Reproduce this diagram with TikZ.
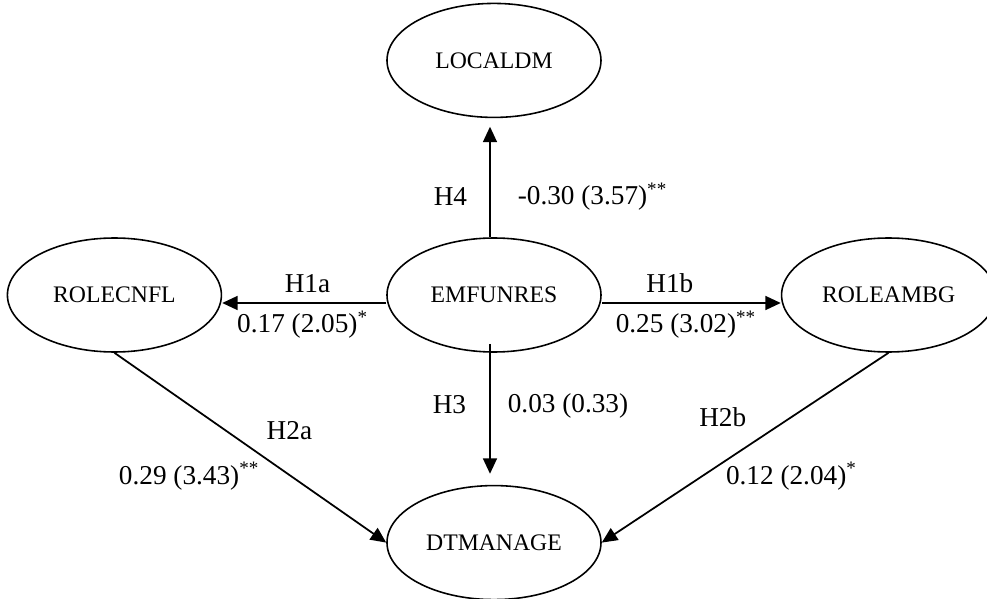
\documentclass[tikz,border=0pt]{standalone}
\usepackage{fontspec}
\setmainfont{Liberation Serif}
\usetikzlibrary{positioning,arrows.meta,shapes}
\tikzset{>={Triangle[length=0.31cm,width=0.28cm]}}

\begin{document}
\begin{tikzpicture}[
construct/.style={ellipse, draw, line width=0.9pt, minimum width=4.28cm, minimum height=2.28cm, inner sep=0pt, font=\fontsize{13.5}{16}\selectfont},
link/.style={->, line width=1pt},
pathlbl/.style={inner sep=0pt, font=\fontsize{15.5}{18}\selectfont}
]
\useasboundingbox (-9.88,-6.08) rectangle (9.86,5.9);
\node (emfunres) [construct] {EMFUNRES};
\node (localdm) [construct, above=2.38cm of emfunres] {LOCALDM};
\node (rolecnfl) [construct, left=3.28cm of emfunres] {ROLECNFL};
\node (roleambg) [construct, right=3.58cm of emfunres] {ROLEAMBG};
\node (dtmanage) [construct, below=2.64cm of emfunres] {DTMANAGE};

\draw [link, shorten >=0.17cm] ([xshift=-0.08cm]emfunres.north) -- node (h4) [pathlbl, pos=0.34, left=0.44cm] {H4} node (v4) [pathlbl, pos=0.34, right=0.54cm] {-0.30 (3.57)\textsuperscript{**}} ([xshift=-0.08cm]localdm.south);
\draw [link] ([yshift=-0.16cm]emfunres.west) -- node (h1a) [pathlbl, pos=0.48, above=0.18cm] {H1a} node (v1a) [pathlbl, pos=0.51, below=0.14cm] {0.17 (2.05)\textsuperscript{*}} ([yshift=-0.16cm]rolecnfl.east);
\draw [link] ([yshift=-0.16cm]emfunres.east) -- node (h1b) [pathlbl, pos=0.38, above=0.18cm] {H1b} node (v1b) [pathlbl, pos=0.47, below=0.14cm] {0.25 (3.02)\textsuperscript{**}} ([yshift=-0.16cm]roleambg.west);
\draw [link, shorten <=-0.18cm, shorten >=0.22cm] ([xshift=-0.08cm]emfunres.south) -- node (h3) [pathlbl, pos=0.39, left=0.46cm] {H3} node (v3) [pathlbl, pos=0.40, right=0.34cm] {0.03 (0.33)} ([xshift=-0.08cm]dtmanage.north);
\draw [link] (rolecnfl.south) -- node (h2a) [pathlbl, pos=0.41, right=0.8cm] {H2a} node (v2a) [pathlbl, pos=0.65, left=0.62cm] {0.29 (3.43)\textsuperscript{**}} (dtmanage.west);
\draw [link] (roleambg.south) -- node (h2b) [pathlbl, pos=0.34, left=0.88cm] {H2b} node (v2b) [pathlbl, pos=0.65, right=0.46cm] {0.12 (2.04)\textsuperscript{*}} (dtmanage.east);
\end{tikzpicture}
\end{document}
